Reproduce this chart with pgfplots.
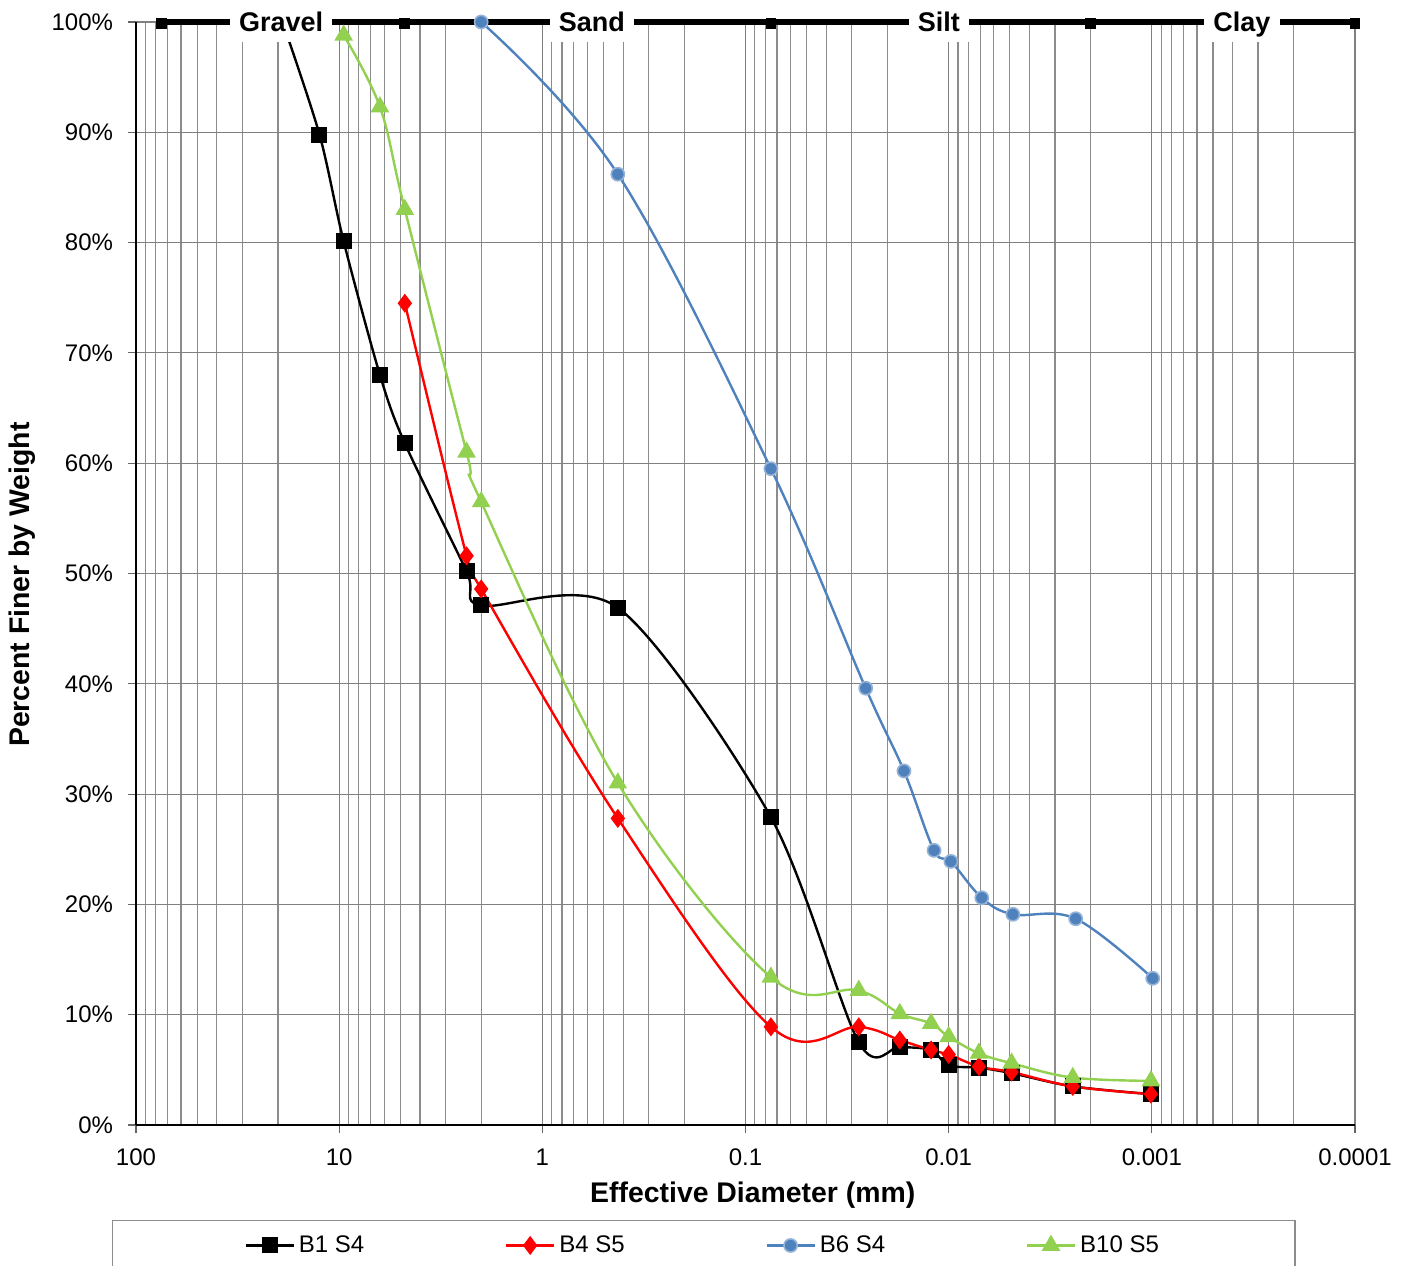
\documentclass[border=0pt]{standalone}
\usepackage{pgfplots}
\pgfplotsset{compat=1.18}
\usepackage{pgfplotstable}
\usepackage{fontspec}
\setmainfont{Liberation Sans}

\definecolor{bluS}{HTML}{4F81BD}
\definecolor{bluE}{HTML}{95B3D7}
\definecolor{grnS}{HTML}{92D050}

% grain size (mm) vs percent finer
\pgfplotstableread{
d p
19 100
12.5 89.8
9.5 80.1
6.3 68.0
4.75 61.8
2.36 50.2
2.0 47.1
0.425 46.9
0.075 27.9
0.0277 7.5
0.0174 7.1
0.0122 6.8
0.0100 5.4
0.0071 5.2
0.0049 4.7
0.00245 3.5
0.00101 2.8
}\bone
\pgfplotstableread{
d p
4.75 74.5
2.36 51.6
2.0 48.6
0.425 27.8
0.075 8.9
0.0277 8.9
0.0174 7.7
0.0122 6.8
0.0100 6.4
0.0071 5.3
0.0049 4.8
0.00245 3.5
0.00101 2.8
}\bfour
\pgfplotstableread{
d p
2.0 100
0.425 86.2
0.075 59.5
0.0256 39.6
0.0166 32.1
0.0118 24.9
0.00975 23.9
0.00687 20.6
0.00483 19.1
0.00237 18.7
0.00099 13.3
}\bsix
\pgfplotstableread{
d p
9.5 98.8
6.3 92.3
4.75 83.0
2.36 61.0
2.0 56.5
0.425 31.0
0.075 13.4
0.0277 12.2
0.0174 10.1
0.0122 9.2
0.0100 8.0
0.0071 6.5
0.0049 5.6
0.00245 4.3
0.00101 4.0
}\bten

\begin{document}
\begin{tikzpicture}
\begin{axis}[
    scale only axis,
    width=609.5pt, height=551.5pt,
    xmode=log, x dir=reverse,
    xmin=0.0001, xmax=100, ymin=0, ymax=100,
    clip=false,
    axis x line*=bottom, axis y line*=left,
    axis line style={black, line width=0.7pt},
    xtick={100,10,1,0.1,0.01,0.001,0.0001},
    xticklabels={100,10,1,0.1,0.01,0.001,0.0001},
    minor xtick={0.0002,0.0003,0.0004,0.0005,0.0006,0.0007,0.0008,0.0009,
                 0.002,0.003,0.004,0.005,0.006,0.007,0.008,0.009,
                 0.02,0.03,0.04,0.05,0.06,0.07,0.08,0.09,
                 0.2,0.3,0.4,0.5,0.6,0.7,0.8,0.9,
                 2,3,4,5,6,7,8,9,
                 20,30,40,50,60,70,80,90},
    ytick={0,10,20,30,40,50,60,70,80,90,100},
    yticklabel={\pgfmathprintnumber{\tick}\%},
    /pgf/number format/assume math mode=true,
    tick label style={font=\fontsize{12}{14}\selectfont},
    xticklabel style={yshift=-4.5pt},
    yticklabel style={xshift=-4pt},
    tick align=outside, major tick length=4pt, minor tick length=0pt,
    tick style={black!60, line width=0.6pt},
    grid=both,
    major grid style={black!50, line width=0.6pt},
    minor grid style={black!45, line width=0.6pt},
    xlabel={Effective Diameter (mm)},
    ylabel={Percent Finer by Weight},
    every axis x label/.style={at={(axis description cs:0.506,-0.0635)}, anchor=center,
        font=\bfseries\fontsize{14.2}{16}\selectfont},
    every axis y label/.style={at={(axis description cs:-0.0935,0.49)}, rotate=90, anchor=center,
        font=\bfseries\fontsize{14.2}{16}\selectfont},
    legend columns=4,
    legend style={at={(axis description cs:-0.0197,-0.0861)}, anchor=north west,
        draw=black!45, line width=0.6pt, inner xsep=66pt, inner ysep=5.5pt,
        font=\fontsize{12}{14}\selectfont,
        /tikz/every even column/.append style={column sep=0pt}},
    legend image code/.code={\draw[mark repeat=2,mark phase=2]
        plot coordinates {(0pt,0pt)(12pt,0pt)(24pt,0pt)};},
]
% soil class band at 100%
\addplot[black, line width=2.6pt, mark=square*, mark size=1.4pt,
    mark options={yshift=-0.9pt}, forget plot]
    coordinates {(75,100)(4.75,100)(0.075,100)(0.002,100)(0.0001,100)};

\addplot[black, line width=1.2pt, smooth, tension=0.5, mark=square*,
    mark size=3.4pt, mark options={solid, fill=black}] table[x=d,y=p]{\bone};
\addlegendentry{\makebox[101pt][l]{B1 S4}}
\addplot[red, line width=1.2pt, smooth, tension=0.6, mark=diamond*,
    mark size=3.8pt, mark options={solid, fill=red}] table[x=d,y=p]{\bfour};
\addlegendentry{\makebox[101pt][l]{B4 S5}}
\addplot[bluS, line width=1.2pt, smooth, tension=0.6, mark=*,
    mark size=3.3pt, mark options={solid, fill=bluS, draw=bluE, line width=0.8pt}] table[x=d,y=p]{\bsix};
\addlegendentry{\makebox[101pt][l]{B6 S4}}
\addplot[grnS, line width=1.2pt, smooth, tension=0.6, mark=triangle*,
    mark size=4.2pt, mark options={solid, fill=grnS}] table[x=d,y=p]{\bten};
\addlegendentry{B10 S5}

\coordinate (G) at (axis cs:19.3,100);
\coordinate (S) at (axis cs:0.57,100);
\coordinate (T) at (axis cs:0.01117,100);
\coordinate (C) at (axis cs:0.00036,100);
\coordinate (O) at (axis description cs:0,0);
\coordinate (NE) at (axis description cs:1,1);
\end{axis}
\tikzset{band/.style={fill=white, inner xsep=4.5pt, inner ysep=0pt,
    text height=11pt, text depth=5pt, anchor=base, yshift=-5pt,
    font=\bfseries\fontsize{13.5}{15}\selectfont}}
\node[band] at (G) {Gravel};
\node[band] at (S) {Sand};
\node[band] at (T) {Silt};
\node[band] at (C) {Clay};
\pgfresetboundingbox
\path[use as bounding box] ([shift={(-68pt,-70pt)}]O) rectangle ([shift={(25.5pt,11pt)}]NE);
\end{tikzpicture}
\end{document}
